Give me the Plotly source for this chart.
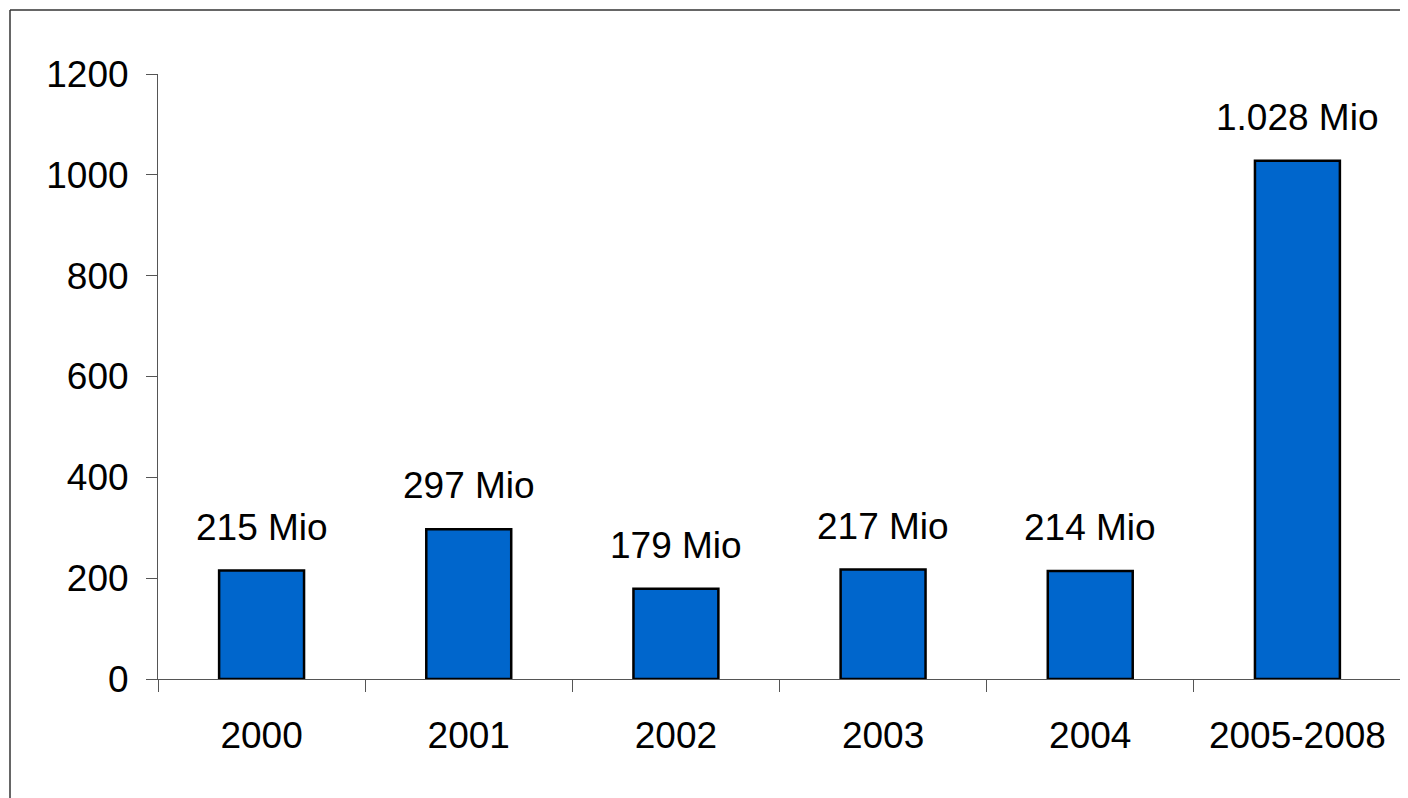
import plotly.graph_objects as go

categories = ["2000", "2001", "2002", "2003", "2004", "2005-2008"]
values = [215, 297, 179, 217, 214, 1028]
labels = ["215 Mio", "297 Mio", "179 Mio", "217 Mio", "214 Mio", "1.028 Mio"]
y_ticks = [0, 200, 400, 600, 800, 1000, 1200]

FONT = "Liberation Sans, Arial, sans-serif"
FS = 37

fig = go.Figure()
fig.add_trace(go.Bar(
    x=categories, y=values,
    marker=dict(color="#0066CC", line=dict(color="#000000", width=2.5)),
    width=0.41,
    hoverinfo="skip",
))

for i, (v, t) in enumerate(zip(values, labels)):
    fig.add_annotation(x=i, y=v, text=t, showarrow=False, yanchor="bottom",
                       yshift=21, font=dict(family=FONT, size=FS, color="#000"))

W, H = 1400, 790
L, R, T, B = 150, 7, 66, 119
pw, ph = W - L - R, H - T - B
fx0, fx1 = (2 - L) / pw, (W - L + 5) / pw
fy0, fy1 = (H - B - (H + 5)) / ph, (H - B - 2) / ph
frame = dict(color="#333333", width=1.5)
fig.add_shape(type="line", xref="paper", yref="paper", x0=fx0, x1=fx0, y0=fy0, y1=fy1,
              line=frame, layer="below")
fig.add_shape(type="line", xref="paper", yref="paper", x0=fx0, x1=fx1, y0=fy1, y1=fy1,
              line=frame, layer="below")

fig.update_layout(
    width=W, height=H,
    margin=dict(l=L, r=R, t=T, b=B),
    paper_bgcolor="white", plot_bgcolor="white",
    showlegend=False,
    font=dict(family=FONT, size=FS, color="#000"),
    xaxis=dict(type="category", categoryorder="array", categoryarray=categories,
               range=[-0.5, len(categories) - 0.5],
               showline=True, linecolor="#555555", linewidth=1,
               ticks="outside", tickson="boundaries", ticklen=12, tickcolor="#555555",
               tickwidth=1, showgrid=False, ticklabelstandoff=24, tickangle=0,
               tickfont=dict(family=FONT, size=FS, color="#000")),
    yaxis=dict(range=[0, 1200], tickvals=y_ticks, showline=True, linecolor="#555555",
               linewidth=1, ticks="outside", ticklen=11, tickcolor="#555555", tickwidth=1,
               showgrid=False, zeroline=False, ticklabelstandoff=10,
               tickfont=dict(family=FONT, size=FS, color="#000")),
)

fig.write_html("out.html")
